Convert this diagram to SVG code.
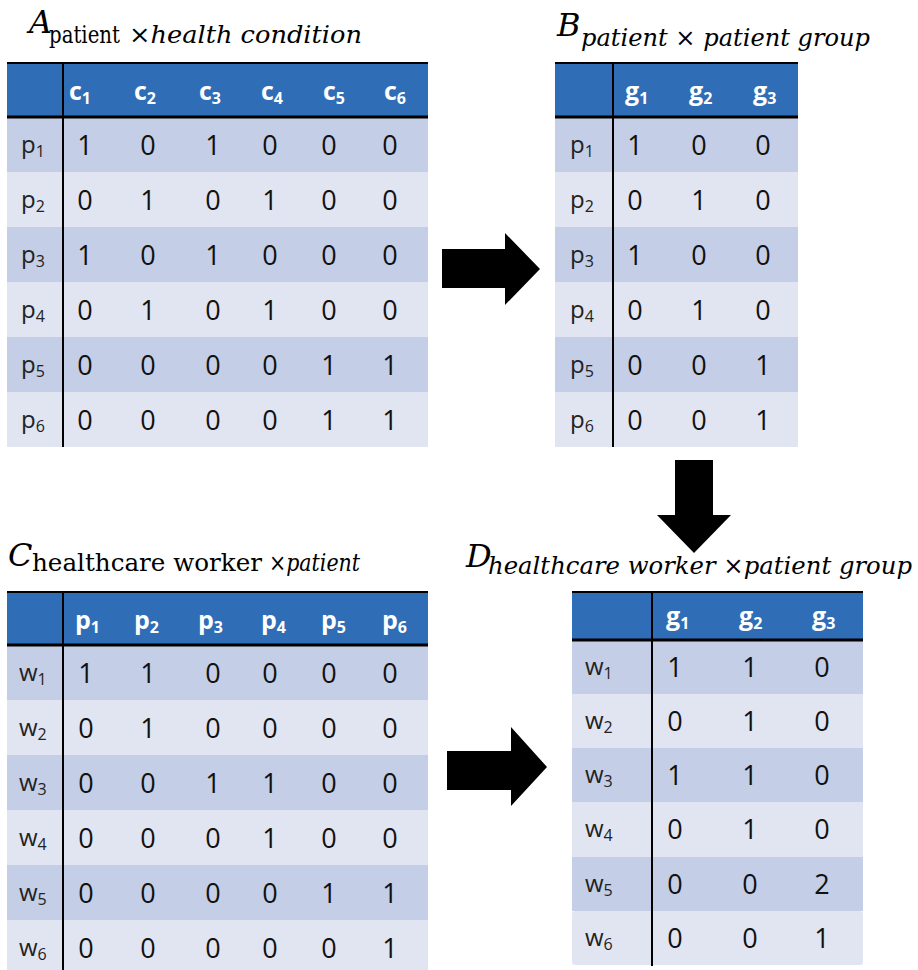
<svg xmlns="http://www.w3.org/2000/svg" width="918" height="970" viewBox="0 0 918 970">
  <style>
    .hdr { fill: #2f6db6; }
    .dark { fill: #c4cee6; }
    .light { fill: #e1e5f2; }
    .rule { stroke: #000; stroke-width: 2; fill: none; }
    .rule3 { stroke: #000; stroke-width: 3; fill: none; }
    .h { font-family: "Open Sans", "Liberation Sans", sans-serif; font-weight: bold; font-size: 25px; fill: #fff; }
    .lab { font-family: "Open Sans", "Liberation Sans", sans-serif; font-size: 24px; fill: #222; }
    .v { font-family: "Open Sans", "Liberation Sans", sans-serif; font-size: 27px; fill: #111; text-anchor: middle; }
    .sub { font-size: 16px; }
    .tbig { font-family: "DejaVu Serif", "Liberation Serif", serif; font-style: italic; font-size: 32px; fill: #000; }
    .tup { font-family: "DejaVu Serif", "Liberation Serif", serif; font-size: 24px; fill: #000; }
    .tit { font-family: "DejaVu Serif", "Liberation Serif", serif; font-style: italic; font-size: 24px; fill: #000; }
    .arrow { fill: #000; }
  </style>

  <!-- Matrix A: patient x health condition -->
  <g id="matrixA">
    <text x="29" y="33" class="tbig">A</text>
    <text x="49" y="43" class="tup" textLength="71" lengthAdjust="spacingAndGlyphs">patient</text>
    <text x="129" y="43" class="tit" textLength="233" lengthAdjust="spacingAndGlyphs">×health condition</text>
    <rect x="7" y="62" width="421" height="55" class="hdr"/>
    <rect x="7" y="117" width="421" height="55" class="dark"/>
    <rect x="7" y="172" width="421" height="55" class="light"/>
    <rect x="7" y="227" width="421" height="55" class="dark"/>
    <rect x="7" y="282" width="421" height="55" class="light"/>
    <rect x="7" y="337" width="421" height="55" class="dark"/>
    <rect x="7" y="392" width="421" height="55" class="light"/>
    <line x1="7" y1="63" x2="428" y2="63" class="rule"/>
    <line x1="7" y1="117" x2="428" y2="117" class="rule3"/>
    <line x1="63" y1="62" x2="63" y2="447" class="rule"/>
    <text class="h" y="100"><tspan x="69">c</tspan><tspan class="sub" dy="4">1</tspan></text>
    <text class="h" y="100"><tspan x="134">c</tspan><tspan class="sub" dy="4">2</tspan></text>
    <text class="h" y="100"><tspan x="199">c</tspan><tspan class="sub" dy="4">3</tspan></text>
    <text class="h" y="100"><tspan x="261">c</tspan><tspan class="sub" dy="4">4</tspan></text>
    <text class="h" y="100"><tspan x="323">c</tspan><tspan class="sub" dy="4">5</tspan></text>
    <text class="h" y="100"><tspan x="384">c</tspan><tspan class="sub" dy="4">6</tspan></text>
    <text class="lab" y="153"><tspan x="21">p</tspan><tspan class="sub" dy="4">1</tspan></text>
    <text class="lab" y="208"><tspan x="21">p</tspan><tspan class="sub" dy="4">2</tspan></text>
    <text class="lab" y="263"><tspan x="21">p</tspan><tspan class="sub" dy="4">3</tspan></text>
    <text class="lab" y="318"><tspan x="21">p</tspan><tspan class="sub" dy="4">4</tspan></text>
    <text class="lab" y="373"><tspan x="21">p</tspan><tspan class="sub" dy="4">5</tspan></text>
    <text class="lab" y="428"><tspan x="21">p</tspan><tspan class="sub" dy="4">6</tspan></text>
    <g class="v">
      <text x="85" y="155">1</text><text x="148" y="155">0</text><text x="213" y="155">1</text><text x="270" y="155">0</text><text x="329" y="155">0</text><text x="390" y="155">0</text>
      <text x="85" y="210">0</text><text x="148" y="210">1</text><text x="213" y="210">0</text><text x="270" y="210">1</text><text x="329" y="210">0</text><text x="390" y="210">0</text>
      <text x="85" y="265">1</text><text x="148" y="265">0</text><text x="213" y="265">1</text><text x="270" y="265">0</text><text x="329" y="265">0</text><text x="390" y="265">0</text>
      <text x="85" y="320">0</text><text x="148" y="320">1</text><text x="213" y="320">0</text><text x="270" y="320">1</text><text x="329" y="320">0</text><text x="390" y="320">0</text>
      <text x="85" y="375">0</text><text x="148" y="375">0</text><text x="213" y="375">0</text><text x="270" y="375">0</text><text x="329" y="375">1</text><text x="390" y="375">1</text>
      <text x="85" y="430">0</text><text x="148" y="430">0</text><text x="213" y="430">0</text><text x="270" y="430">0</text><text x="329" y="430">1</text><text x="390" y="430">1</text>
    </g>
  </g>

  <!-- Matrix B: patient x patient group -->
  <g id="matrixB">
    <text x="557" y="36" class="tbig">B</text>
    <text x="581" y="46" class="tit" textLength="289" lengthAdjust="spacingAndGlyphs">patient × patient group</text>
    <rect x="555" y="62" width="243" height="55" class="hdr"/>
    <rect x="555" y="117" width="243" height="55" class="dark"/>
    <rect x="555" y="172" width="243" height="55" class="light"/>
    <rect x="555" y="227" width="243" height="55" class="dark"/>
    <rect x="555" y="282" width="243" height="55" class="light"/>
    <rect x="555" y="337" width="243" height="55" class="dark"/>
    <rect x="555" y="392" width="243" height="55" class="light"/>
    <line x1="555" y1="63" x2="798" y2="63" class="rule"/>
    <line x1="555" y1="117" x2="798" y2="117" class="rule3"/>
    <line x1="613" y1="62" x2="613" y2="447" class="rule"/>
    <text class="h" y="100"><tspan x="625">g</tspan><tspan class="sub" dy="4">1</tspan></text>
    <text class="h" y="100"><tspan x="689">g</tspan><tspan class="sub" dy="4">2</tspan></text>
    <text class="h" y="100"><tspan x="753">g</tspan><tspan class="sub" dy="4">3</tspan></text>
    <text class="lab" y="153"><tspan x="570">p</tspan><tspan class="sub" dy="4">1</tspan></text>
    <text class="lab" y="208"><tspan x="570">p</tspan><tspan class="sub" dy="4">2</tspan></text>
    <text class="lab" y="263"><tspan x="570">p</tspan><tspan class="sub" dy="4">3</tspan></text>
    <text class="lab" y="318"><tspan x="570">p</tspan><tspan class="sub" dy="4">4</tspan></text>
    <text class="lab" y="373"><tspan x="570">p</tspan><tspan class="sub" dy="4">5</tspan></text>
    <text class="lab" y="428"><tspan x="570">p</tspan><tspan class="sub" dy="4">6</tspan></text>
    <g class="v">
      <text x="635" y="155">1</text><text x="699" y="155">0</text><text x="763" y="155">0</text>
      <text x="635" y="210">0</text><text x="699" y="210">1</text><text x="763" y="210">0</text>
      <text x="635" y="265">1</text><text x="699" y="265">0</text><text x="763" y="265">0</text>
      <text x="635" y="320">0</text><text x="699" y="320">1</text><text x="763" y="320">0</text>
      <text x="635" y="375">0</text><text x="699" y="375">0</text><text x="763" y="375">1</text>
      <text x="635" y="430">0</text><text x="699" y="430">0</text><text x="763" y="430">1</text>
    </g>
  </g>

  <!-- Matrix C: healthcare worker x patient -->
  <g id="matrixC">
    <text x="8" y="566" class="tbig">C</text>
    <text x="32" y="571" class="tup" textLength="230" lengthAdjust="spacingAndGlyphs">healthcare worker</text>
    <text x="269" y="571" class="tit" textLength="91" lengthAdjust="spacingAndGlyphs">×patient</text>
    <rect x="7" y="591" width="421" height="54" class="hdr"/>
    <rect x="7" y="645" width="421" height="55" class="dark"/>
    <rect x="7" y="700" width="421" height="55" class="light"/>
    <rect x="7" y="755" width="421" height="55" class="dark"/>
    <rect x="7" y="810" width="421" height="55" class="light"/>
    <rect x="7" y="865" width="421" height="55" class="dark"/>
    <rect x="7" y="920" width="421" height="50" class="light"/>
    <line x1="7" y1="592" x2="428" y2="592" class="rule"/>
    <line x1="7" y1="645" x2="428" y2="645" class="rule3"/>
    <line x1="63" y1="591" x2="63" y2="970" class="rule"/>
    <text class="h" y="629"><tspan x="75">p</tspan><tspan class="sub" dy="4">1</tspan></text>
    <text class="h" y="629"><tspan x="134">p</tspan><tspan class="sub" dy="4">2</tspan></text>
    <text class="h" y="629"><tspan x="198">p</tspan><tspan class="sub" dy="4">3</tspan></text>
    <text class="h" y="629"><tspan x="261">p</tspan><tspan class="sub" dy="4">4</tspan></text>
    <text class="h" y="629"><tspan x="321">p</tspan><tspan class="sub" dy="4">5</tspan></text>
    <text class="h" y="629"><tspan x="382">p</tspan><tspan class="sub" dy="4">6</tspan></text>
    <text class="lab" y="681"><tspan x="19">w</tspan><tspan class="sub" dy="4">1</tspan></text>
    <text class="lab" y="736"><tspan x="19">w</tspan><tspan class="sub" dy="4">2</tspan></text>
    <text class="lab" y="791"><tspan x="19">w</tspan><tspan class="sub" dy="4">3</tspan></text>
    <text class="lab" y="846"><tspan x="19">w</tspan><tspan class="sub" dy="4">4</tspan></text>
    <text class="lab" y="901"><tspan x="19">w</tspan><tspan class="sub" dy="4">5</tspan></text>
    <text class="lab" y="956"><tspan x="19">w</tspan><tspan class="sub" dy="4">6</tspan></text>
    <g class="v">
      <text x="86" y="683">1</text><text x="148" y="683">1</text><text x="213" y="683">0</text><text x="270" y="683">0</text><text x="329" y="683">0</text><text x="390" y="683">0</text>
      <text x="86" y="738">0</text><text x="148" y="738">1</text><text x="213" y="738">0</text><text x="270" y="738">0</text><text x="329" y="738">0</text><text x="390" y="738">0</text>
      <text x="86" y="793">0</text><text x="148" y="793">0</text><text x="213" y="793">1</text><text x="270" y="793">1</text><text x="329" y="793">0</text><text x="390" y="793">0</text>
      <text x="86" y="848">0</text><text x="148" y="848">0</text><text x="213" y="848">0</text><text x="270" y="848">1</text><text x="329" y="848">0</text><text x="390" y="848">0</text>
      <text x="86" y="903">0</text><text x="148" y="903">0</text><text x="213" y="903">0</text><text x="270" y="903">0</text><text x="329" y="903">1</text><text x="390" y="903">1</text>
      <text x="86" y="958">0</text><text x="148" y="958">0</text><text x="213" y="958">0</text><text x="270" y="958">0</text><text x="329" y="958">0</text><text x="390" y="958">1</text>
    </g>
  </g>

  <!-- Matrix D: healthcare worker x patient group -->
  <g id="matrixD">
    <text x="466" y="567" class="tbig">D</text>
    <text x="488" y="574" class="tit" textLength="424" lengthAdjust="spacingAndGlyphs">healthcare worker ×patient group</text>
    <rect x="572" y="591" width="291" height="49" class="hdr"/>
    <rect x="572" y="640" width="291" height="54" class="dark"/>
    <rect x="572" y="694" width="291" height="54" class="light"/>
    <rect x="572" y="748" width="291" height="54" class="dark"/>
    <rect x="572" y="802" width="291" height="55" class="light"/>
    <rect x="572" y="857" width="291" height="54" class="dark"/>
    <rect x="572" y="911" width="291" height="54" rx="3" class="light"/>
    <line x1="572" y1="592" x2="863" y2="592" class="rule"/>
    <line x1="572" y1="640" x2="863" y2="640" class="rule3"/>
    <line x1="652" y1="591" x2="652" y2="966" class="rule"/>
    <text class="h" y="625"><tspan x="666">g</tspan><tspan class="sub" dy="4">1</tspan></text>
    <text class="h" y="625"><tspan x="739">g</tspan><tspan class="sub" dy="4">2</tspan></text>
    <text class="h" y="625"><tspan x="812">g</tspan><tspan class="sub" dy="4">3</tspan></text>
    <text class="lab" y="675"><tspan x="585">w</tspan><tspan class="sub" dy="4">1</tspan></text>
    <text class="lab" y="729"><tspan x="585">w</tspan><tspan class="sub" dy="4">2</tspan></text>
    <text class="lab" y="783"><tspan x="585">w</tspan><tspan class="sub" dy="4">3</tspan></text>
    <text class="lab" y="837"><tspan x="585">w</tspan><tspan class="sub" dy="4">4</tspan></text>
    <text class="lab" y="892"><tspan x="585">w</tspan><tspan class="sub" dy="4">5</tspan></text>
    <text class="lab" y="946"><tspan x="585">w</tspan><tspan class="sub" dy="4">6</tspan></text>
    <g class="v">
      <text x="675" y="677">1</text><text x="750" y="677">1</text><text x="822" y="677">0</text>
      <text x="675" y="731">0</text><text x="750" y="731">1</text><text x="822" y="731">0</text>
      <text x="675" y="785">1</text><text x="750" y="785">1</text><text x="822" y="785">0</text>
      <text x="675" y="839">0</text><text x="750" y="839">1</text><text x="822" y="839">0</text>
      <text x="675" y="894">0</text><text x="750" y="894">0</text><text x="822" y="894">2</text>
      <text x="675" y="948">0</text><text x="750" y="948">0</text><text x="822" y="948">1</text>
    </g>
  </g>

  <!-- Block arrows between the matrices -->
  <g id="connectors">
    <polygon class="arrow" points="442,249 505,249 505,233 540,269 505,305 505,288 442,288"/>
    <polygon class="arrow" points="675,460 713,460 713,515 731,515 694,553 657,515 675,515"/>
    <polygon class="arrow" points="447,751 511,751 511,727 547,767 511,806 511,790 447,790"/>
  </g>
</svg>
